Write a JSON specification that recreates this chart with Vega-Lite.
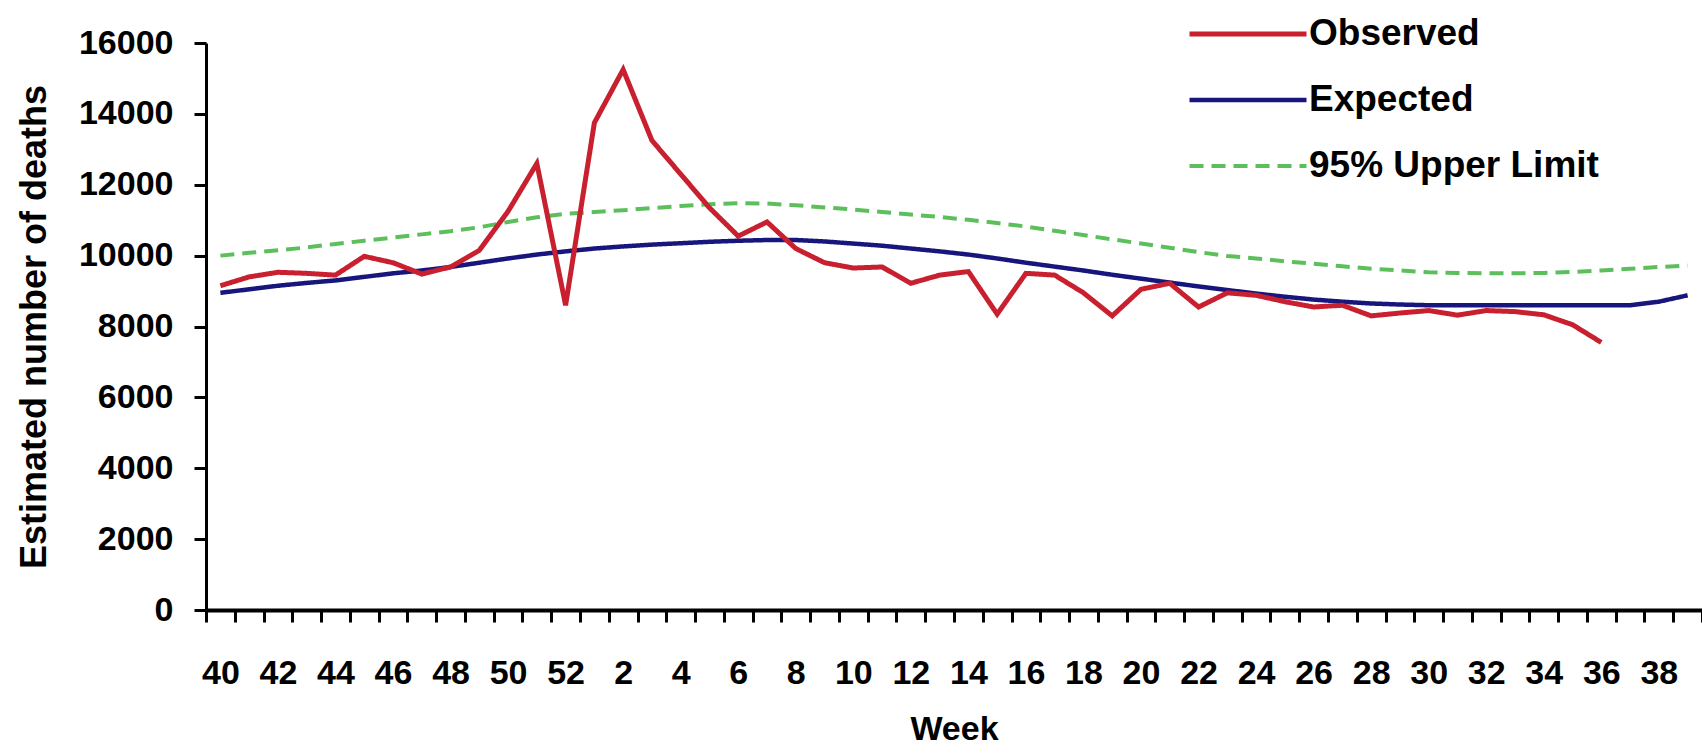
{
  "$schema": "https://vega.github.io/schema/vega-lite/v6.json",
  "width": 1496,
  "height": 567,
  "autosize": {"type": "none"},
  "padding": {"left": 206, "top": 43, "right": 0, "bottom": 144},
  "background": "white",
  "config": {
    "view": {"stroke": null},
    "font": "Liberation Sans",
    "axis": {"grid": false, "domainColor": "black", "tickColor": "black", "labelColor": "black", "titleColor": "black", "labelFont": "Liberation Sans", "titleFont": "Liberation Sans", "labelFontWeight": "bold", "titleFontWeight": "bold"}
  },
  "data": {
    "values": [
      {"week": "40", "Observed": 9150, "Expected": 8950, "95% Upper Limit": 10000},
      {"week": "41", "Observed": 9400, "Expected": 9050, "95% Upper Limit": 10080},
      {"week": "42", "Observed": 9530, "Expected": 9150, "95% Upper Limit": 10150},
      {"week": "43", "Observed": 9500, "Expected": 9230, "95% Upper Limit": 10230},
      {"week": "44", "Observed": 9450, "Expected": 9300, "95% Upper Limit": 10330},
      {"week": "45", "Observed": 9980, "Expected": 9400, "95% Upper Limit": 10420},
      {"week": "46", "Observed": 9800, "Expected": 9500, "95% Upper Limit": 10510},
      {"week": "47", "Observed": 9480, "Expected": 9580, "95% Upper Limit": 10600},
      {"week": "48", "Observed": 9680, "Expected": 9680, "95% Upper Limit": 10690},
      {"week": "49", "Observed": 10150, "Expected": 9800, "95% Upper Limit": 10800},
      {"week": "50", "Observed": 11250, "Expected": 9920, "95% Upper Limit": 10950},
      {"week": "51", "Observed": 12600, "Expected": 10030, "95% Upper Limit": 11080},
      {"week": "52", "Observed": 8600, "Expected": 10120, "95% Upper Limit": 11180},
      {"week": "1", "Observed": 13750, "Expected": 10200, "95% Upper Limit": 11230},
      {"week": "2", "Observed": 15250, "Expected": 10260, "95% Upper Limit": 11280},
      {"week": "3", "Observed": 13250, "Expected": 10310, "95% Upper Limit": 11340},
      {"week": "4", "Observed": 12300, "Expected": 10350, "95% Upper Limit": 11400},
      {"week": "5", "Observed": 11350, "Expected": 10390, "95% Upper Limit": 11450},
      {"week": "6", "Observed": 10550, "Expected": 10420, "95% Upper Limit": 11480},
      {"week": "7", "Observed": 10950, "Expected": 10440, "95% Upper Limit": 11470},
      {"week": "8", "Observed": 10200, "Expected": 10440, "95% Upper Limit": 11420},
      {"week": "9", "Observed": 9800, "Expected": 10400, "95% Upper Limit": 11360},
      {"week": "10", "Observed": 9650, "Expected": 10340, "95% Upper Limit": 11300},
      {"week": "11", "Observed": 9680, "Expected": 10280, "95% Upper Limit": 11230},
      {"week": "12", "Observed": 9220, "Expected": 10200, "95% Upper Limit": 11160},
      {"week": "13", "Observed": 9450, "Expected": 10120, "95% Upper Limit": 11090},
      {"week": "14", "Observed": 9550, "Expected": 10030, "95% Upper Limit": 11010},
      {"week": "15", "Observed": 8350, "Expected": 9920, "95% Upper Limit": 10920},
      {"week": "16", "Observed": 9500, "Expected": 9800, "95% Upper Limit": 10820},
      {"week": "17", "Observed": 9450, "Expected": 9690, "95% Upper Limit": 10700},
      {"week": "18", "Observed": 8950, "Expected": 9580, "95% Upper Limit": 10580},
      {"week": "19", "Observed": 8300, "Expected": 9460, "95% Upper Limit": 10460},
      {"week": "20", "Observed": 9050, "Expected": 9350, "95% Upper Limit": 10340},
      {"week": "21", "Observed": 9220, "Expected": 9240, "95% Upper Limit": 10220},
      {"week": "22", "Observed": 8550, "Expected": 9130, "95% Upper Limit": 10100},
      {"week": "23", "Observed": 8950, "Expected": 9030, "95% Upper Limit": 9990},
      {"week": "24", "Observed": 8880, "Expected": 8930, "95% Upper Limit": 9920},
      {"week": "25", "Observed": 8700, "Expected": 8840, "95% Upper Limit": 9840},
      {"week": "26", "Observed": 8550, "Expected": 8760, "95% Upper Limit": 9770},
      {"week": "27", "Observed": 8600, "Expected": 8700, "95% Upper Limit": 9700},
      {"week": "28", "Observed": 8300, "Expected": 8650, "95% Upper Limit": 9630},
      {"week": "29", "Observed": 8380, "Expected": 8620, "95% Upper Limit": 9580},
      {"week": "30", "Observed": 8450, "Expected": 8600, "95% Upper Limit": 9530},
      {"week": "31", "Observed": 8320, "Expected": 8600, "95% Upper Limit": 9510},
      {"week": "32", "Observed": 8450, "Expected": 8600, "95% Upper Limit": 9500},
      {"week": "33", "Observed": 8420, "Expected": 8600, "95% Upper Limit": 9500},
      {"week": "34", "Observed": 8330, "Expected": 8600, "95% Upper Limit": 9510},
      {"week": "35", "Observed": 8050, "Expected": 8600, "95% Upper Limit": 9540},
      {"week": "36", "Observed": 7550, "Expected": 8600, "95% Upper Limit": 9580},
      {"week": "37", "Observed": null, "Expected": 8600, "95% Upper Limit": 9630},
      {"week": "38", "Observed": null, "Expected": 8700, "95% Upper Limit": 9680},
      {"week": "39", "Observed": null, "Expected": 8880, "95% Upper Limit": 9720}
    ]
  },
  "transform": [
    {"fold": ["95% Upper Limit", "Expected", "Observed"], "as": ["series", "value"]}
  ],
  "mark": {"type": "line", "strokeCap": "butt", "strokeJoin": "miter"},
  "encoding": {
    "x": {
      "field": "week",
      "type": "ordinal",
      "bandPosition": 0.5,
      "sort": ["40","41","42","43","44","45","46","47","48","49","50","51","52","1","2","3","4","5","6","7","8","9","10","11","12","13","14","15","16","17","18","19","20","21","22","23","24","25","26","27","28","29","30","31","32","33","34","35","36","37","38","39"],
      "scale": {"type": "band", "paddingInner": 0, "paddingOuter": 0},
      "axis": {
        "title": "Week",
        "titleFontSize": 34,
        "titlePadding": 22,
        "labelFontSize": 34,
        "labelAngle": 0,
        "labelPadding": 34,
        "labelOverlap": false,
        "labelExpr": "toNumber(datum.value) % 2 == 0 ? datum.label : ''",
        "tickBand": "extent",
        "tickSize": 12,
        "tickWidth": 3,
        "domainWidth": 4
      }
    },
    "y": {
      "field": "value",
      "type": "quantitative",
      "scale": {"domain": [0, 16000], "nice": false},
      "axis": {
        "title": "Estimated number of deaths",
        "titleFontSize": 36,
        "titlePadding": 25,
        "format": "d",
        "values": [0, 2000, 4000, 6000, 8000, 10000, 12000, 14000, 16000],
        "labelFontSize": 34,
        "labelPadding": 21,
        "tickSize": 12,
        "tickWidth": 3,
        "domainWidth": 3
      }
    },
    "color": {
      "field": "series",
      "type": "nominal",
      "scale": {"domain": ["Observed", "Expected", "95% Upper Limit"], "range": ["#c8202e", "#16167c", "#5cbf5c"]},
      "legend": {
        "title": null,
        "orient": "none",
        "legendX": 981,
        "legendY": -29,
        "direction": "vertical",
        "symbolType": "stroke",
        "symbolSize": 13689,
        "symbolStrokeWidth": 6,
        "labelFontSize": 37,
        "labelFont": "Liberation Sans",
        "labelFontWeight": "bold",
        "labelColor": "black",
        "labelOffset": 0,
        "clipHeight": 40,
        "rowPadding": 26,
        "padding": 0,
        "labelLimit": 400
      }
    },
    "strokeDash": {
      "field": "series",
      "type": "nominal",
      "scale": {"domain": ["Observed", "Expected", "95% Upper Limit"], "range": [[1, 0], [1, 0], [14, 8]]},
      "legend": null
    },
    "strokeWidth": {
      "field": "series",
      "type": "nominal",
      "scale": {"domain": ["Observed", "Expected", "95% Upper Limit"], "range": [5, 4, 4]},
      "legend": null
    }
  }
}
